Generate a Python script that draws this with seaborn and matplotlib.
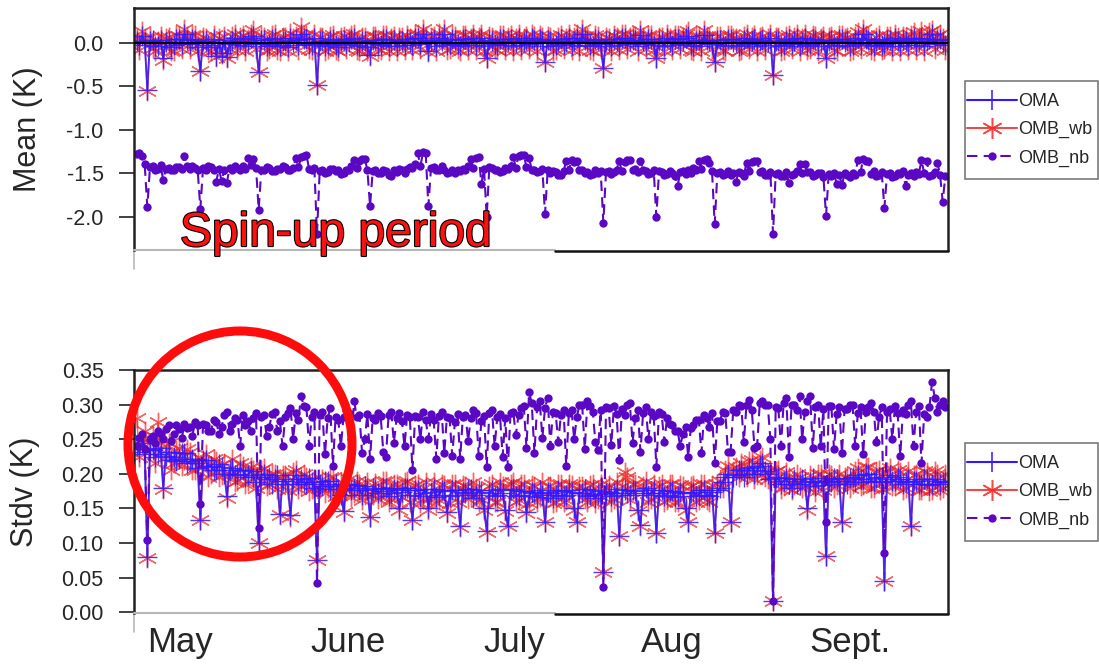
import numpy as np
import seaborn as sns
import matplotlib
matplotlib.use("Agg")
import matplotlib.pyplot as plt
from matplotlib.lines import Line2D
from matplotlib.patches import Ellipse, Rectangle
import matplotlib.patheffects as pe

# ---------------------------------------------------------------- data
# twice-daily statistics, 1 May .. 30 Sept (153 days, 306 cycles)
mean_oma = [
    0.02, -0.03, 0.08, 0.01, -0.54, 0.02, 0.03, -0.04, -0.04, 0.03, -0.18, 0.01, 0.01, -0.05, -0.03, 0.04, 0.04, -0.02, 0.10, 0.03,
    -0.02, 0.04, 0.03, -0.05, -0.33, 0.02, 0.02, -0.03, -0.05, 0.04, -0.15, 0.01, -0.12, 0.03, -0.16, -0.02, 0.02, 0.05, -0.03, 0.02,
    0.04, -0.04, 0.01, 0.05, 0.08, -0.02, -0.34, 0.03, 0.03, -0.04, -0.02, 0.04, 0.05, -0.03, -0.04, 0.02, 0.02, -0.05, 0.06, 0.01,
    0.03, -0.03, 0.10, 0.04, 0.04, -0.02, -0.03, 0.05, -0.49, 0.02, 0.02, -0.04, -0.02, 0.03, 0.04, -0.03, -0.05, 0.02, 0.03, -0.02,
    0.01, 0.04, 0.05, -0.03, -0.04, 0.02, 0.02, -0.05, -0.14, 0.03, 0.03, -0.02, -0.03, 0.04, 0.04, -0.04, 0.01, 0.03, -0.04, 0.02,
    0.02, -0.03, 0.04, 0.01, -0.03, 0.05, 0.05, -0.02, 0.10, 0.03, -0.10, 0.02, 0.03, -0.04, 0.06, 0.02, 0.10, -0.03, -0.02, 0.04,
    0.03, -0.02, -0.04, 0.04, 0.04, -0.03, 0.01, 0.05, -0.03, 0.02, 0.05, -0.04, -0.18, 0.03, 0.02, -0.02, -0.03, 0.04, 0.04, -0.03,
    0.02, 0.04, -0.04, 0.01, 0.05, -0.03, 0.01, 0.03, -0.02, 0.05, 0.03, -0.04, 0.04, 0.02, -0.22, 0.03, 0.02, -0.04, -0.03, 0.02,
    0.04, -0.02, 0.01, 0.05, -0.03, 0.02, 0.05, -0.04, 0.10, 0.03, 0.02, -0.03, -0.04, 0.04, 0.03, -0.02, -0.29, 0.02, 0.01, -0.04,
    0.04, 0.02, -0.03, 0.05, 0.05, -0.02, 0.02, 0.03, 0.03, -0.04, 0.09, 0.02, -0.02, 0.04, 0.04, -0.03, -0.17, 0.02, 0.02, -0.04,
    0.05, 0.01, -0.03, 0.04, 0.04, -0.02, 0.02, 0.05, 0.08, -0.03, -0.04, 0.02, 0.03, -0.04, 0.09, 0.03, 0.02, -0.02, -0.22, 0.03,
    0.03, -0.03, -0.04, 0.04, 0.04, 0.01, 0.01, -0.04, -0.03, 0.03, 0.05, -0.02, 0.02, 0.04, -0.04, 0.02, 0.03, -0.03, 0.01, 0.05,
    -0.37, 0.02, 0.02, -0.04, -0.03, 0.03, 0.04, -0.02, 0.02, 0.05, -0.04, 0.01, 0.05, -0.03, -0.02, 0.04, 0.03, -0.04, 0.01, 0.03,
    -0.18, 0.02, 0.03, -0.03, -0.04, 0.04, 0.04, 0.01, 0.02, -0.04, -0.03, 0.03, 0.05, -0.02, 0.10, 0.04, 0.03, -0.03, -0.04, 0.02,
    0.04, -0.03, -0.02, 0.03, 0.03, -0.04, 0.05, 0.02, -0.04, 0.03, 0.02, -0.03, 0.04, 0.05, -0.03, 0.02, 0.05, -0.04, 0.02, 0.04,
    0.10, -0.02, 0.03, 0.04, 0.01, -0.03,
]
mean_omb_wb = [
    0.06, -0.08, 0.14, 0.05, -0.55, 0.07, -0.06, -0.09, 0.02, 0.08, -0.20, 0.06, 0.07, -0.10, -0.09, 0.09, 0.08, -0.07, 0.16, 0.08,
    -0.07, 0.09, 0.09, -0.10, -0.33, 0.07, 0.06, -0.08, -0.10, 0.09, -0.16, 0.06, -0.13, 0.08, -0.17, -0.07, 0.08, 0.10, -0.08, 0.07,
    0.09, -0.09, 0.04, 0.10, 0.15, -0.07, -0.34, 0.08, 0.07, -0.09, -0.07, 0.09, 0.10, -0.08, -0.09, 0.07, 0.07, -0.10, 0.11, 0.06,
    0.08, -0.08, 0.18, 0.09, 0.09, -0.07, -0.08, 0.10, -0.49, 0.07, 0.07, -0.09, -0.07, 0.08, 0.09, -0.08, -0.10, 0.07, 0.08, -0.07,
    0.05, 0.09, 0.10, -0.08, -0.09, 0.07, 0.07, -0.10, -0.15, 0.08, 0.08, -0.07, -0.08, 0.09, 0.09, -0.09, 0.05, 0.08, -0.09, 0.07,
    0.07, -0.08, 0.09, 0.05, -0.08, 0.10, 0.10, -0.07, 0.16, 0.08, -0.11, 0.07, 0.08, -0.09, 0.11, 0.07, 0.16, -0.08, -0.07, 0.09,
    0.08, -0.07, -0.09, 0.09, 0.09, -0.08, 0.05, 0.10, -0.08, 0.07, 0.10, -0.09, -0.18, 0.08, 0.07, -0.07, -0.08, 0.09, 0.09, -0.08,
    0.07, 0.09, -0.09, 0.05, 0.10, -0.08, 0.05, 0.08, -0.07, 0.10, 0.08, -0.09, 0.09, 0.07, -0.22, 0.08, 0.07, -0.09, -0.08, 0.07,
    0.09, -0.07, 0.05, 0.10, -0.08, 0.07, 0.10, -0.09, 0.16, 0.08, 0.07, -0.08, -0.09, 0.09, 0.08, -0.07, -0.29, 0.07, 0.05, -0.09,
    0.09, 0.07, -0.08, 0.10, 0.10, -0.07, 0.07, 0.08, 0.08, -0.09, 0.15, 0.07, -0.07, 0.09, 0.09, -0.08, -0.17, 0.07, 0.07, -0.09,
    0.10, 0.05, -0.08, 0.09, 0.09, -0.07, 0.07, 0.10, 0.14, -0.08, -0.09, 0.07, 0.08, -0.09, 0.15, 0.08, 0.07, -0.07, -0.22, 0.08,
    0.08, -0.08, -0.09, 0.09, 0.09, 0.05, 0.05, -0.09, -0.08, 0.08, 0.10, -0.07, 0.07, 0.09, -0.09, 0.07, 0.08, -0.08, 0.05, 0.10,
    -0.37, 0.07, 0.07, -0.09, -0.08, 0.08, 0.09, -0.07, 0.07, 0.10, -0.09, 0.05, 0.10, -0.08, -0.07, 0.09, 0.08, -0.09, 0.05, 0.08,
    -0.18, 0.07, 0.08, -0.08, -0.09, 0.09, 0.09, 0.05, 0.07, -0.09, -0.08, 0.08, 0.12, -0.07, 0.16, 0.09, 0.08, -0.08, -0.09, 0.07,
    0.09, -0.08, -0.07, 0.08, 0.08, -0.09, 0.10, 0.07, -0.09, 0.08, 0.07, -0.08, 0.09, 0.12, -0.08, 0.07, 0.14, -0.09, 0.07, 0.12,
    0.15, -0.07, 0.08, 0.10, 0.05, -0.08,
]
mean_omb_nb = [
    -1.28, -1.27, -1.30, -1.40, -1.89, -1.43, -1.42, -1.46, -1.45, -1.41, -1.58, -1.45, -1.44, -1.47, -1.47, -1.43, -1.43, -1.45, -1.30, -1.42,
    -1.45, -1.42, -1.44, -1.47, -1.91, -1.44, -1.46, -1.42, -1.43, -1.47, -1.60, -1.45, -1.59, -1.47, -1.61, -1.44, -1.47, -1.42, -1.44, -1.46,
    -1.42, -1.45, -1.33, -1.41, -1.34, -1.44, -1.92, -1.46, -1.46, -1.43, -1.44, -1.48, -1.48, -1.45, -1.45, -1.42, -1.43, -1.47, -1.46, -1.44,
    -1.33, -1.43, -1.32, -1.30, -1.29, -1.45, -1.47, -1.44, -2.20, -1.48, -1.46, -1.50, -1.49, -1.45, -1.45, -1.48, -1.47, -1.51, -1.50, -1.46,
    -1.46, -1.42, -1.35, -1.44, -1.36, -1.34, -1.34, -1.46, -1.88, -1.48, -1.47, -1.50, -1.50, -1.46, -1.48, -1.52, -1.53, -1.47, -1.49, -1.45,
    -1.47, -1.50, -1.45, -1.43, -1.44, -1.40, -1.27, -1.42, -1.26, -1.27, -1.88, -1.44, -1.43, -1.47, -1.46, -1.42, -1.47, -1.50, -1.49, -1.46,
    -1.50, -1.47, -1.48, -1.45, -1.46, -1.42, -1.34, -1.44, -1.33, -1.31, -1.62, -1.45, -2.00, -1.43, -1.44, -1.47, -1.46, -1.49, -1.48, -1.44,
    -1.45, -1.42, -1.31, -1.44, -1.30, -1.29, -1.29, -1.43, -1.33, -1.46, -1.46, -1.49, -1.48, -1.45, -1.97, -1.47, -1.50, -1.48, -1.49, -1.52,
    -1.52, -1.48, -1.36, -1.47, -1.35, -1.37, -1.36, -1.46, -1.47, -1.50, -1.49, -1.52, -1.51, -1.47, -1.50, -1.48, -2.07, -1.49, -1.48, -1.51,
    -1.49, -1.46, -1.36, -1.48, -1.37, -1.35, -1.35, -1.47, -1.45, -1.49, -1.36, -1.46, -1.48, -1.51, -1.50, -1.47, -2.00, -1.48, -1.49, -1.52,
    -1.51, -1.48, -1.50, -1.53, -1.65, -1.49, -1.48, -1.51, -1.46, -1.50, -1.44, -1.47, -1.36, -1.45, -1.35, -1.34, -1.38, -1.48, -2.09, -1.50,
    -1.49, -1.52, -1.51, -1.48, -1.52, -1.50, -1.60, -1.49, -1.50, -1.53, -1.38, -1.48, -1.37, -1.36, -1.36, -1.49, -1.48, -1.52, -1.52, -1.49,
    -2.20, -1.51, -1.50, -1.53, -1.53, -1.49, -1.61, -1.52, -1.51, -1.48, -1.39, -1.50, -1.40, -1.49, -1.49, -1.53, -1.52, -1.50, -1.50, -1.54,
    -1.99, -1.51, -1.53, -1.50, -1.62, -1.52, -1.64, -1.50, -1.52, -1.55, -1.50, -1.52, -1.35, -1.49, -1.34, -1.36, -1.36, -1.51, -1.48, -1.53,
    -1.52, -1.49, -1.90, -1.51, -1.50, -1.54, -1.53, -1.50, -1.51, -1.48, -1.65, -1.52, -1.50, -1.53, -1.49, -1.51, -1.35, -1.50, -1.36, -1.53,
    -1.52, -1.49, -1.38, -1.52, -1.83, -1.53,
]

stdv_oma = [
    0.240, 0.232, 0.245, 0.228, 0.080, 0.236, 0.235, 0.225, 0.228, 0.238, 0.180, 0.226, 0.232, 0.220, 0.225, 0.218, 0.222, 0.230, 0.230, 0.215,
    0.218, 0.222, 0.215, 0.208, 0.134, 0.220, 0.220, 0.210, 0.212, 0.205, 0.205, 0.214, 0.210, 0.200, 0.168, 0.206, 0.208, 0.198, 0.200, 0.206,
    0.205, 0.196, 0.198, 0.204, 0.196, 0.188, 0.100, 0.198, 0.200, 0.192, 0.195, 0.186, 0.192, 0.198, 0.142, 0.190, 0.190, 0.185, 0.140, 0.192,
    0.198, 0.186, 0.192, 0.188, 0.185, 0.194, 0.188, 0.180, 0.076, 0.186, 0.183, 0.190, 0.190, 0.178, 0.182, 0.186, 0.178, 0.170, 0.146, 0.184,
    0.185, 0.176, 0.180, 0.184, 0.176, 0.170, 0.182, 0.176, 0.138, 0.180, 0.178, 0.172, 0.175, 0.180, 0.180, 0.168, 0.172, 0.178, 0.177, 0.150,
    0.174, 0.180, 0.180, 0.170, 0.134, 0.176, 0.176, 0.168, 0.172, 0.178, 0.150, 0.174, 0.178, 0.166, 0.170, 0.176, 0.175, 0.145, 0.168, 0.176,
    0.176, 0.170, 0.124, 0.174, 0.172, 0.178, 0.178, 0.165, 0.170, 0.176, 0.174, 0.150, 0.118, 0.172, 0.176, 0.168, 0.170, 0.178, 0.172, 0.148,
    0.124, 0.176, 0.178, 0.168, 0.170, 0.175, 0.175, 0.145, 0.168, 0.174, 0.173, 0.166, 0.176, 0.170, 0.130, 0.174, 0.172, 0.165, 0.169, 0.176,
    0.175, 0.168, 0.170, 0.176, 0.174, 0.150, 0.130, 0.172, 0.172, 0.178, 0.168, 0.170, 0.176, 0.165, 0.171, 0.175, 0.058, 0.172, 0.174, 0.168,
    0.172, 0.178, 0.110, 0.170, 0.177, 0.172, 0.170, 0.176, 0.175, 0.148, 0.126, 0.172, 0.180, 0.170, 0.172, 0.176, 0.115, 0.172, 0.176, 0.168,
    0.170, 0.175, 0.175, 0.166, 0.168, 0.174, 0.172, 0.150, 0.131, 0.172, 0.174, 0.168, 0.170, 0.176, 0.176, 0.170, 0.168, 0.174, 0.115, 0.176,
    0.180, 0.188, 0.195, 0.200, 0.130, 0.196, 0.198, 0.205, 0.205, 0.196, 0.200, 0.208, 0.210, 0.200, 0.205, 0.212, 0.215, 0.204, 0.200, 0.192,
    0.016, 0.194, 0.195, 0.186, 0.190, 0.194, 0.186, 0.180, 0.192, 0.186, 0.185, 0.192, 0.190, 0.150, 0.188, 0.194, 0.182, 0.188, 0.190, 0.184,
    0.081, 0.190, 0.188, 0.194, 0.192, 0.186, 0.130, 0.190, 0.186, 0.194, 0.195, 0.188, 0.198, 0.192, 0.192, 0.200, 0.200, 0.190, 0.188, 0.194,
    0.195, 0.188, 0.045, 0.192, 0.198, 0.190, 0.190, 0.196, 0.193, 0.186, 0.188, 0.192, 0.124, 0.190, 0.190, 0.185, 0.186, 0.192, 0.192, 0.184,
    0.185, 0.192, 0.190, 0.186, 0.188, 0.190,
]
stdv_omb_wb = [
    0.280, 0.225, 0.250, 0.262, 0.078, 0.245, 0.255, 0.215, 0.275, 0.230, 0.178, 0.240, 0.245, 0.205, 0.215, 0.235, 0.238, 0.212, 0.220, 0.236,
    0.232, 0.205, 0.205, 0.225, 0.133, 0.210, 0.228, 0.196, 0.200, 0.222, 0.218, 0.195, 0.198, 0.215, 0.165, 0.200, 0.222, 0.188, 0.190, 0.215,
    0.212, 0.185, 0.190, 0.210, 0.205, 0.180, 0.100, 0.205, 0.208, 0.182, 0.186, 0.200, 0.200, 0.178, 0.140, 0.198, 0.198, 0.176, 0.138, 0.202,
    0.205, 0.178, 0.183, 0.200, 0.196, 0.175, 0.178, 0.192, 0.076, 0.180, 0.192, 0.172, 0.180, 0.195, 0.195, 0.168, 0.170, 0.188, 0.145, 0.176,
    0.193, 0.166, 0.172, 0.190, 0.185, 0.162, 0.170, 0.188, 0.137, 0.170, 0.187, 0.163, 0.168, 0.190, 0.190, 0.160, 0.164, 0.186, 0.186, 0.148,
    0.166, 0.188, 0.190, 0.160, 0.133, 0.184, 0.185, 0.158, 0.163, 0.188, 0.148, 0.165, 0.188, 0.158, 0.162, 0.186, 0.184, 0.143, 0.158, 0.186,
    0.186, 0.160, 0.123, 0.184, 0.182, 0.163, 0.168, 0.188, 0.180, 0.160, 0.163, 0.148, 0.116, 0.182, 0.186, 0.160, 0.160, 0.188, 0.182, 0.146,
    0.124, 0.186, 0.188, 0.160, 0.162, 0.185, 0.185, 0.143, 0.158, 0.184, 0.183, 0.160, 0.166, 0.188, 0.130, 0.183, 0.182, 0.158, 0.160, 0.186,
    0.185, 0.160, 0.162, 0.186, 0.184, 0.148, 0.130, 0.182, 0.182, 0.163, 0.160, 0.184, 0.186, 0.158, 0.163, 0.185, 0.058, 0.180, 0.184, 0.160,
    0.164, 0.188, 0.110, 0.182, 0.203, 0.196, 0.162, 0.186, 0.185, 0.146, 0.125, 0.182, 0.190, 0.160, 0.164, 0.186, 0.114, 0.182, 0.186, 0.160,
    0.162, 0.186, 0.185, 0.160, 0.160, 0.184, 0.182, 0.148, 0.130, 0.182, 0.184, 0.160, 0.162, 0.186, 0.186, 0.162, 0.160, 0.184, 0.114, 0.186,
    0.190, 0.180, 0.205, 0.212, 0.130, 0.204, 0.210, 0.195, 0.215, 0.205, 0.195, 0.218, 0.220, 0.192, 0.198, 0.220, 0.225, 0.196, 0.192, 0.206,
    0.016, 0.204, 0.205, 0.178, 0.182, 0.202, 0.196, 0.176, 0.184, 0.200, 0.195, 0.180, 0.182, 0.148, 0.198, 0.184, 0.174, 0.200, 0.200, 0.176,
    0.081, 0.200, 0.198, 0.180, 0.184, 0.200, 0.130, 0.196, 0.196, 0.180, 0.186, 0.204, 0.208, 0.182, 0.184, 0.210, 0.210, 0.180, 0.180, 0.204,
    0.205, 0.178, 0.045, 0.202, 0.208, 0.182, 0.182, 0.206, 0.203, 0.176, 0.180, 0.204, 0.124, 0.198, 0.200, 0.176, 0.176, 0.204, 0.202, 0.175,
    0.176, 0.204, 0.200, 0.176, 0.180, 0.200,
]
stdv_omb_nb = [
    0.240, 0.252, 0.258, 0.236, 0.104, 0.250, 0.255, 0.244, 0.262, 0.258, 0.250, 0.265, 0.270, 0.248, 0.258, 0.270, 0.265, 0.252, 0.272, 0.266,
    0.268, 0.255, 0.275, 0.270, 0.156, 0.272, 0.270, 0.262, 0.262, 0.278, 0.275, 0.258, 0.268, 0.285, 0.290, 0.262, 0.272, 0.280, 0.278, 0.240,
    0.285, 0.270, 0.276, 0.262, 0.280, 0.288, 0.122, 0.282, 0.285, 0.255, 0.268, 0.286, 0.290, 0.262, 0.276, 0.240, 0.282, 0.288, 0.295, 0.250,
    0.288, 0.278, 0.313, 0.298, 0.296, 0.240, 0.282, 0.290, 0.042, 0.285, 0.290, 0.228, 0.280, 0.295, 0.212, 0.282, 0.278, 0.240, 0.282, 0.292,
    0.288, 0.250, 0.305, 0.282, 0.285, 0.230, 0.250, 0.286, 0.222, 0.280, 0.278, 0.288, 0.284, 0.232, 0.225, 0.285, 0.290, 0.245, 0.280, 0.288,
    0.276, 0.240, 0.285, 0.282, 0.205, 0.284, 0.282, 0.250, 0.290, 0.278, 0.250, 0.286, 0.278, 0.222, 0.284, 0.290, 0.230, 0.282, 0.280, 0.226,
    0.275, 0.286, 0.222, 0.282, 0.285, 0.248, 0.280, 0.292, 0.288, 0.226, 0.276, 0.284, 0.210, 0.288, 0.292, 0.240, 0.282, 0.286, 0.225, 0.280,
    0.210, 0.288, 0.290, 0.256, 0.285, 0.295, 0.298, 0.238, 0.318, 0.302, 0.230, 0.296, 0.305, 0.252, 0.295, 0.310, 0.240, 0.290, 0.288, 0.246,
    0.285, 0.292, 0.212, 0.288, 0.292, 0.250, 0.282, 0.300, 0.300, 0.236, 0.305, 0.298, 0.290, 0.246, 0.235, 0.292, 0.037, 0.296, 0.295, 0.242,
    0.298, 0.286, 0.220, 0.294, 0.285, 0.300, 0.302, 0.245, 0.280, 0.292, 0.232, 0.288, 0.296, 0.250, 0.290, 0.284, 0.210, 0.290, 0.286, 0.246,
    0.280, 0.272, 0.270, 0.262, 0.262, 0.240, 0.258, 0.268, 0.225, 0.266, 0.270, 0.278, 0.278, 0.230, 0.285, 0.280, 0.268, 0.288, 0.215, 0.276,
    0.276, 0.290, 0.288, 0.232, 0.232, 0.292, 0.290, 0.300, 0.298, 0.246, 0.300, 0.306, 0.292, 0.238, 0.240, 0.302, 0.305, 0.300, 0.300, 0.250,
    0.016, 0.296, 0.295, 0.240, 0.302, 0.310, 0.225, 0.300, 0.300, 0.292, 0.312, 0.250, 0.290, 0.305, 0.312, 0.238, 0.296, 0.300, 0.240, 0.294,
    0.130, 0.298, 0.298, 0.236, 0.286, 0.296, 0.230, 0.294, 0.294, 0.300, 0.300, 0.240, 0.288, 0.296, 0.228, 0.290, 0.296, 0.302, 0.290, 0.246,
    0.282, 0.296, 0.085, 0.290, 0.293, 0.250, 0.298, 0.288, 0.226, 0.292, 0.286, 0.300, 0.305, 0.240, 0.290, 0.298, 0.215, 0.286, 0.282, 0.296,
    0.333, 0.310, 0.290, 0.300, 0.305, 0.296,
]

month_labels = ["May", "June", "July", "Aug", "Sept."]
month_label_pos = [8.2, 39.9, 71.3, 101.0, 134.5]   # in days since 1 May
series_names = ["OMA", "OMB_wb", "OMB_nb"]

days = np.arange(len(mean_oma)) * 0.5

# ---------------------------------------------------------------- style
sns.set_style("white")
plt.rcParams["font.family"] = ["Liberation Sans", "DejaVu Sans"]

C_OMA = "#3318ff"
C_WB = "#f02828"
C_NB = "#5a08c4"
STAR = (6, 2, 0)

fig = plt.figure(figsize=(10.99, 6.64), dpi=100)
ax_mean = fig.add_axes([0.122, 0.6235, 0.7406, 0.3645])
ax_std = fig.add_axes([0.122, 0.0768, 0.7406, 0.366])


def draw_series(ax, oma, wb, nb):
    sns.lineplot(x=days, y=wb, ax=ax, color=C_WB, alpha=0.7, linewidth=1.1,
                 marker=STAR, markersize=14, markeredgewidth=1.0,
                 markeredgecolor=C_WB, estimator=None, sort=False, legend=False)
    sns.lineplot(x=days, y=oma, ax=ax, color=C_OMA, alpha=0.85, linewidth=1.4,
                 marker="+", markersize=14, markeredgewidth=1.0,
                 markeredgecolor=C_OMA, estimator=None, sort=False, legend=False)
    sns.lineplot(x=days, y=nb, ax=ax, color=C_NB, linewidth=1.5,
                 linestyle=(0, (5, 3)), marker="o", markersize=6,
                 markeredgewidth=0, estimator=None, sort=False, legend=False)


draw_series(ax_mean, mean_oma, mean_omb_wb, mean_omb_nb)
ax_mean.axhline(0.0, color="black", linewidth=1.6, zorder=5)
draw_series(ax_std, stdv_oma, stdv_omb_wb, stdv_omb_nb)

for ax in (ax_mean, ax_std):
    ax.set_xlim(-0.5, 153.0)
    for side in ("top", "left", "right"):
        ax.spines[side].set_color("#222222")
        ax.spines[side].set_linewidth(1.8)
    ax.spines["bottom"].set_visible(False)
    # lower frame edge: light on the left part, dark on the right part
    ax.plot([0, 0.517], [0, 0], color="#b8b8b8", linewidth=1.5,
            transform=ax.transAxes, clip_on=False, zorder=6)
    ax.plot([0.517, 1], [-0.006, -0.006], color="#111111", linewidth=1.8,
            transform=ax.transAxes, clip_on=False, zorder=6)
    ax.plot([0, 0], [0, -0.08], color="#b8b8b8", linewidth=1.2,
            transform=ax.transAxes, clip_on=False)
    ax.tick_params(axis="y", direction="out", length=11, width=1.3,
                   color="#333333", labelsize=15.5, pad=11, left=True)
    ax.set_xlabel("")

ax_mean.set_ylim(-2.385, 0.40)
ax_mean.set_yticks([0.0, -0.5, -1.0, -1.5, -2.0])
ax_mean.set_yticklabels(["0.0", "-0.5", "-1.0", "-1.5", "-2.0"])
ax_mean.set_xticks([])
ax_mean.set_ylabel("Mean (K)", fontsize=22, labelpad=17)

ax_std.set_ylim(-0.001, 0.35)
ax_std.set_yticks([0.00, 0.05, 0.10, 0.15, 0.20, 0.25, 0.30, 0.35])
ax_std.set_yticklabels(["0.00", "0.05", "0.10", "0.15", "0.20", "0.25",
                        "0.30", "0.35"])
ax_std.set_xticks(month_label_pos)
ax_std.set_xticklabels(month_labels, fontsize=25)
ax_std.tick_params(axis="x", length=0, pad=9)
ax_std.set_ylabel("Stdv (K)", fontsize=22, labelpad=15)

# legends placed to the right of each panel, each inside a plain box
handles = [
    Line2D([], [], color=C_OMA, linewidth=1.5, marker="+", markersize=15,
           markeredgewidth=1.1),
    Line2D([], [], color=C_WB, linewidth=1.5, marker=STAR, markersize=15,
           markeredgewidth=1.1, alpha=0.85),
    Line2D([], [], color=C_NB, linewidth=1.5, linestyle=(0, (5, 3)),
           marker="o", markersize=6, markeredgewidth=0),
]
W, H = 1099, 664
for box_top in (81, 443):
    fig.add_artist(Rectangle((965 / W, 1 - (box_top + 98) / H), 133 / W,
                             98 / H, transform=fig.transFigure, fill=False,
                             edgecolor="#7a7a7a", linewidth=1.2))
    fig.legend(handles, series_names, loc="upper left",
               bbox_to_anchor=(967 / W, 1 - (box_top + 12) / H),
               fontsize=13, frameon=False, handlelength=2.75,
               handletextpad=0.08, borderpad=0, labelspacing=0.62,
               borderaxespad=0)

# annotations
txt = fig.text(180 / W, 1 - 246 / H, "Spin-up period", fontsize=34.5,
               color="#ff1010", ha="left", va="baseline", zorder=20)
txt.set_path_effects([pe.Stroke(linewidth=1.6, foreground="black"),
                      pe.Normal()])

circle = Ellipse((240 / W, 1 - 444 / H), width=224 / W, height=226 / H,
                 transform=fig.transFigure, fill=False,
                 edgecolor="#ff0d0d", linewidth=6.5, zorder=30)
fig.add_artist(circle)

fig.savefig("out.png", dpi=100)
